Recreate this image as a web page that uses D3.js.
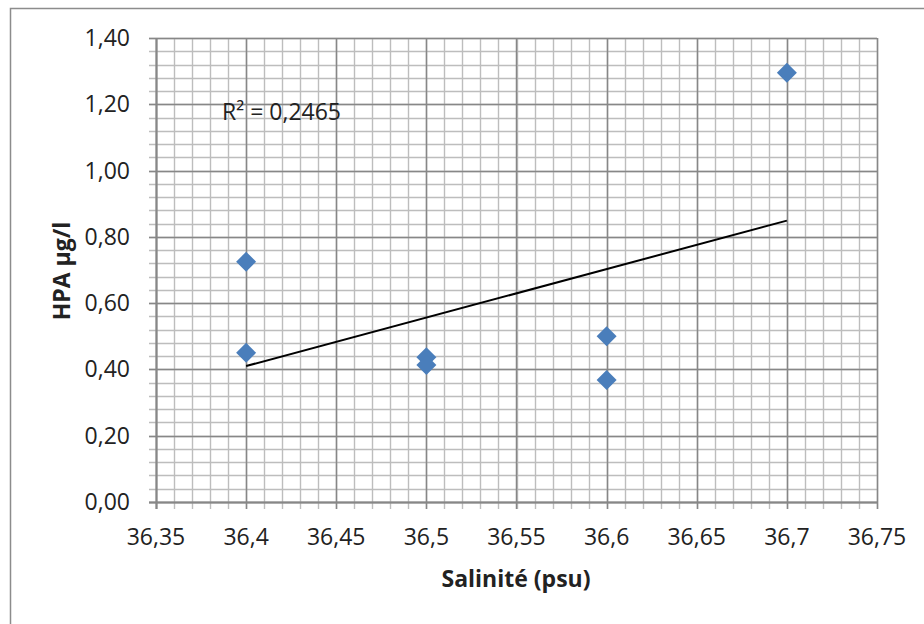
<!DOCTYPE html>
<html>
<head>
<meta charset="utf-8">
<script src="https://cdn.jsdelivr.net/npm/d3@7"></script>
<style>
  html, body { margin: 0; padding: 0; background: #fff; }
  svg { display: block; font-family: "Open Sans", sans-serif; }
</style>
</head>
<body>
<svg id="chart" width="924" height="624"></svg>
<script>
// salinity (psu) and HPA (µg/l)
const salinity = [36.4, 36.4, 36.5, 36.5, 36.6, 36.6, 36.7];
const hpa = [0.725, 0.45, 0.437, 0.413, 0.50, 0.368, 1.295];

const xTicks = [36.35, 36.4, 36.45, 36.5, 36.55, 36.6, 36.65, 36.7, 36.75];
const xTickLabels = ["36,35", "36,4", "36,45", "36,5", "36,55", "36,6", "36,65", "36,7", "36,75"];
const yTicks = [0, 0.2, 0.4, 0.6, 0.8, 1.0, 1.2, 1.4];
const yTickLabels = ["0,00", "0,20", "0,40", "0,60", "0,80", "1,00", "1,20", "1,40"];
const r2Label = "R² = 0,2465";

const svg = d3.select("#chart");
const plot = { left: 156, right: 877, top: 38, bottom: 502 };

const x = d3.scaleLinear().domain([36.35, 36.75]).range([plot.left, plot.right]);
const y = d3.scaleLinear().domain([0, 1.4]).range([plot.bottom, plot.top]);

// chart border
svg.append("rect")
  .attr("x", 10.5).attr("y", 8.5)
  .attr("width", 940).attr("height", 640)
  .attr("fill", "#fff")
  .attr("stroke", "#8c8c8c")
  .attr("stroke-width", 1.5);

// minor grid
const xMinor = d3.range(0, 41).map(i => 36.35 + i * 0.01);
const yMinor = d3.range(0, 36).map(i => i * 0.04);

const grid = svg.append("g");
grid.selectAll(".vminor").data(xMinor).join("line")
  .attr("x1", d => Math.round(x(d)) + 0.5).attr("x2", d => Math.round(x(d)) + 0.5)
  .attr("y1", plot.top).attr("y2", plot.bottom + 7)
  .attr("stroke", "#bdbdbd").attr("stroke-width", 1.4);
grid.selectAll(".hminor").data(yMinor).join("line")
  .attr("x1", plot.left - 7).attr("x2", plot.right)
  .attr("y1", d => Math.round(y(d)) + 0.5).attr("y2", d => Math.round(y(d)) + 0.5)
  .attr("stroke", "#bdbdbd").attr("stroke-width", 1.4);

// major grid
grid.selectAll(".vmajor").data(xTicks).join("line")
  .attr("x1", d => Math.round(x(d)) + 0.5).attr("x2", d => Math.round(x(d)) + 0.5)
  .attr("y1", plot.top).attr("y2", plot.bottom + 7)
  .attr("stroke", "#878787").attr("stroke-width", 1.5);
grid.selectAll(".hmajor").data(yTicks).join("line")
  .attr("x1", plot.left - 7).attr("x2", plot.right)
  .attr("y1", d => Math.round(y(d)) + 0.5).attr("y2", d => Math.round(y(d)) + 0.5)
  .attr("stroke", "#878787").attr("stroke-width", 1.5);

// axis lines
svg.append("line")
  .attr("x1", plot.left + 0.5).attr("x2", plot.left + 0.5)
  .attr("y1", plot.top).attr("y2", plot.bottom + 7)
  .attr("stroke", "#878787").attr("stroke-width", 2);
svg.append("line")
  .attr("x1", plot.left - 7).attr("x2", plot.right)
  .attr("y1", plot.bottom + 0.5).attr("y2", plot.bottom + 0.5)
  .attr("stroke", "#878787").attr("stroke-width", 2);

// tick labels
svg.append("g").selectAll("text").data(yTicks).join("text")
  .attr("x", 130)
  .attr("y", d => y(d))
  .attr("dy", "0.35em")
  .attr("text-anchor", "end")
  .attr("font-size", 23)
  .attr("fill", "#222")
  .text((d, i) => yTickLabels[i]);

svg.append("g").selectAll("text").data(xTicks).join("text")
  .attr("x", d => x(d))
  .attr("y", 545)
  .attr("text-anchor", "middle")
  .attr("font-size", 23)
  .attr("fill", "#222")
  .text((d, i) => xTickLabels[i]);

// axis titles
svg.append("text")
  .attr("x", 516).attr("y", 587)
  .attr("text-anchor", "middle")
  .attr("font-size", 23).attr("font-weight", "bold")
  .attr("fill", "#222")
  .text("Salinité (psu)");

svg.append("text")
  .attr("transform", "translate(70,271) rotate(-90)")
  .attr("text-anchor", "middle")
  .attr("font-size", 23).attr("font-weight", "bold")
  .attr("fill", "#222")
  .text("HPA µg/l");

// linear trendline (least squares)
const points = salinity.map((s, i) => ({ s, v: hpa[i] }));
const mx = d3.mean(salinity), my = d3.mean(hpa);
const slope = d3.sum(points, p => (p.s - mx) * (p.v - my)) / d3.sum(points, p => (p.s - mx) ** 2);
const intercept = my - slope * mx;
const [xMin, xMax] = d3.extent(salinity);

svg.append("line")
  .attr("x1", x(xMin)).attr("y1", y(intercept + slope * xMin))
  .attr("x2", x(xMax)).attr("y2", y(intercept + slope * xMax))
  .attr("stroke", "#000").attr("stroke-width", 2);

// markers
const diamond = d3.symbol().type(d3.symbolSquare).size(200);
svg.append("g").selectAll("path").data(points).join("path")
  .attr("d", diamond)
  .attr("transform", d => `translate(${x(d.s)},${y(d.v)}) rotate(45)`)
  .attr("fill", "#4a7ebb");

// R² label
svg.append("text")
  .attr("x", 222).attr("y", 120)
  .attr("font-size", 23)
  .attr("fill", "#222")
  .text(r2Label);
</script>
</body>
</html>
